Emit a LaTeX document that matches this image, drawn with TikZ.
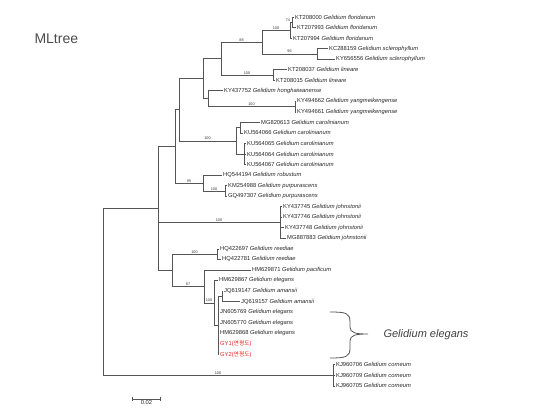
\documentclass[tikz,border=0pt]{standalone}
\usepackage{fontspec}
\setmainfont{Liberation Sans}
\newfontfamily\krfont{Noto Sans CJK KR}
\usepackage{tikz}
\usetikzlibrary{arrows.meta}
\usetikzlibrary{positioning}
\usepackage{xcolor}
\definecolor{treegray}{HTML}{555555}
\definecolor{gyred}{HTML}{EE2222}
\newcommand{\gelid}[1]{\textit{Gelidium #1}}

\begin{document}
\begin{tikzpicture}[ x=1pt, y=-1pt, branch/.style={treegray, line width=0.7pt},
    leaf/.style={anchor=west, inner sep=1pt, text=black!85, font=\fontsize{5.8}{6.5}\selectfont},
    boot/.style={above, inner sep=0.6pt, text=black!80, font=\fontsize{3.8}{4.2}\selectfont} ]

  \useasboundingbox (0,0) rectangle (550,409);

  % Title
  \node[anchor=west, text=black!70, font=\fontsize{14}{16}\selectfont] (title) at (31,39) {MLtree};

  % Internal nodes
  \coordinate (root) at (103,291.9);
  \coordinate (A) at (158,208.4);
  \coordinate (B) at (175,146.4);
  \coordinate (D) at (179,109.7);
  \coordinate (F) at (203,78.6);
  \coordinate (G) at (221,58.5);
  \coordinate (I) at (262,42.0);
  \coordinate (Fl) at (290,30.2);
  \coordinate (Fl2) at (292,22.3);
  \coordinate (Sc) at (317,53.9);
  \coordinate (Lin) at (273,75.0);
  \coordinate (H) at (208,98.7);
  \coordinate (Yang) at (295,106.6);
  \coordinate (Car) at (236,140.9);
  \coordinate (P) at (240,127.7);
  \coordinate (Q) at (244,154.0);
  \coordinate (Rob) at (203,183.0);
  \coordinate (Pur) at (225,191.0);
  \coordinate (J) at (280,222.5);
  \coordinate (E) at (172,270.3);
  \coordinate (Ree) at (217,254.2);
  \coordinate (El) at (204,286.4);
  \coordinate (El2) at (214,302.9);
  \coordinate (El3) at (218,325.3);
  \coordinate (Am) at (222,296.3);
  \coordinate (C) at (333,375.4);

  % Leaves
  \node[leaf] (k0) at (294,17.0) {KT208000 \gelid{floridanum}};
  \node[leaf] (k1) at (296,27.5) {KT207993 \gelid{floridanum}};
  \node[leaf] (k2) at (292,38.1) {KT207994 \gelid{floridanum}};
  \node[leaf] (k3) at (328,48.6) {KC288159 \gelid{sclerophyllum}};
  \node[leaf] (k4) at (335,59.2) {KY656556 \gelid{sclerophyllum}};
  \node[leaf] (k5) at (287,69.7) {KT208037 \gelid{lineare}};
  \node[leaf] (k6) at (275,80.2) {KT208015 \gelid{lineare}};
  \node[leaf] (k7) at (223,90.8) {KY437752 \gelid{honghaiwanense}};
  \node[leaf] (k8) at (296,101.3) {KY494662 \gelid{yangmeikengense}};
  \node[leaf] (k9) at (296,111.9) {KY494661 \gelid{yangmeikengense}};
  \node[leaf] (k10) at (260,122.4) {MG820613 \gelid{carolinianum}};
  \node[leaf] (k11) at (243,132.9) {KU564066 \gelid{carolinianum}};
  \node[leaf] (k12) at (246,143.5) {KU564065 \gelid{carolinianum}};
  \node[leaf] (k13) at (246,154.0) {KU564064 \gelid{carolinianum}};
  \node[leaf] (k14) at (246,164.6) {KU564067 \gelid{carolinianum}};
  \node[leaf] (k15) at (222,175.1) {HQ544194 \gelid{robustum}};
  \node[leaf] (k16) at (227,185.6) {KM254988 \gelid{purpurascens}};
  \node[leaf] (k17) at (227,196.2) {GQ497307 \gelid{purpurascens}};
  \node[leaf] (k18) at (282,206.7) {KY437745 \gelid{johnstonii}};
  \node[leaf] (k19) at (282,217.3) {KY437746 \gelid{johnstonii}};
  \node[leaf] (k20) at (284,227.8) {KY437748 \gelid{johnstonii}};
  \node[leaf] (k21) at (286,238.3) {MG887883 \gelid{johnstonii}};
  \node[leaf] (k22) at (219,248.9) {HQ422697 \gelid{reediae}};
  \node[leaf] (k23) at (221,259.4) {HQ422781 \gelid{reediae}};
  \node[leaf] (k24) at (251,270.0) {HM629871 \gelid{pacificum}};
  \node[leaf] (k25) at (218,280.5) {HM629867 \gelid{elegans}};
  \node[leaf] (k26) at (223,291.0) {JQ619147 \gelid{amansii}};
  \node[leaf] (k27) at (240,301.6) {JQ619157 \gelid{amansii}};
  \node[leaf] (k28) at (219,312.1) {JN605769 \gelid{elegans}};
  \node[leaf] (k29) at (219,322.7) {JN605770 \gelid{elegans}};
  \node[leaf] (k30) at (219,333.2) {HM629868 \gelid{elegans}};
  \node[leaf, text=gyred] (k31) at (219,343.7) {GY1({\krfont 연평도})};
  \node[leaf, text=gyred] (k32) at (219,354.3) {GY2({\krfont 연평도})};
  \node[leaf] (k33) at (335,364.8) {KJ960706 \gelid{corneum}};
  \node[leaf] (k34) at (335,375.4) {KJ960709 \gelid{corneum}};
  \node[leaf] (k35) at (335,385.9) {KJ960705 \gelid{corneum}};

  % Branches
  \draw[branch] (root) |- (A);
  \draw[branch] (root) |- (C) node[boot, pos=.75] {100};
  \draw[branch] (A) |- (B);
  \draw[branch] (A) |- (J) node[boot, pos=.75] {100};
  \draw[branch] (A) |- (E);
  \draw[branch] (B) |- (D);
  \draw[branch] (B) |- (Rob) node[boot, pos=.75] {95};
  \draw[branch] (D) |- (F);
  \draw[branch] (D) |- (Car) node[boot, pos=.75] {100};
  \draw[branch] (F) |- (G);
  \draw[branch] (F) |- (H);
  \draw[branch] (G) |- (I) node[boot, pos=.75] {88};
  \draw[branch] (G) |- (Lin) node[boot, pos=.75] {100};
  \draw[branch] (I) |- (Fl) node[boot, pos=.75] {100};
  \draw[branch] (I) |- (Sc) node[boot, pos=.75] {96};
  \draw[branch] (Fl) |- (Fl2) node[boot, pos=1, anchor=south east, xshift=-1pt] {74};
  \draw[branch] (Fl) |- (k2.west);
  \draw[branch] (H) |- (Yang) node[boot, pos=.75] {100};
  \draw[branch] (H) |- (k7.west);
  \draw[branch] (Car) |- (P);
  \draw[branch] (Car) |- (Q);
  \draw[branch] (Rob) |- (Pur) node[boot, pos=.75] {100};
  \draw[branch] (Rob) |- (k15.west);
  \draw[branch] (E) |- (Ree) node[boot, pos=.75] {100};
  \draw[branch] (E) |- (El) node[boot, pos=.75] {87};
  \draw[branch] (El) |- (El2) node[boot, pos=.75] {100};
  \draw[branch] (El) |- (k24.west);
  \draw[branch] (El2) |- (El3);
  \draw[branch] (El2) |- (k25.west);
  \draw[branch] (El3) |- (Am);

  % Tips
  \foreach \k in {k0,k1} \draw[branch] (Fl2) |- (\k.west);
  \foreach \k in {k3,k4} \draw[branch] (Sc) |- (\k.west);
  \foreach \k in {k5,k6} \draw[branch] (Lin) |- (\k.west);
  \foreach \k in {k8,k9} \draw[branch] (Yang) |- (\k.west);
  \foreach \k in {k10,k11} \draw[branch] (P) |- (\k.west);
  \foreach \k in {k12,k13,k14} \draw[branch] (Q) |- (\k.west);
  \foreach \k in {k16,k17} \draw[branch] (Pur) |- (\k.west);
  \foreach \k in {k18,k19,k20,k21} \draw[branch] (J) |- (\k.west);
  \foreach \k in {k22,k23} \draw[branch] (Ree) |- (\k.west);
  \foreach \k in {k26,k27} \draw[branch] (Am) |- (\k.west);
  \foreach \k in {k28,k29,k30,k31,k32} \draw[branch] (El3) |- (\k.west);
  \foreach \k in {k33,k34,k35} \draw[branch] (C) |- (\k.west);

  % Clade brace
  \draw[treegray, line width=0.8pt] (330,312) .. controls (346,312) and (350,313) .. (350,322)
    -- (350,327) .. controls (350,333) and (356,334) .. (368,334)
    .. controls (356,334) and (350,335) .. (350,341)
    -- (350,348) .. controls (350,357) and (346,358) .. (330,358);
  \node[anchor=west, text=black!75, font=\fontsize{11}{13}\selectfont\itshape] (clade) at (380,335) {Gelidium elegans};

  % Scale bar
  \coordinate (sL) at (132,399);
  \coordinate (sR) at (161,399);
  \draw[branch, {Bar[width=4pt]}-{Bar[width=4pt]}] (sL) -- (sR)
    node[midway, below=1.5pt, inner sep=0pt, text=black!85, font=\fontsize{5.8}{6.5}\selectfont] (scale) {0.02};
\end{tikzpicture}
\end{document}
